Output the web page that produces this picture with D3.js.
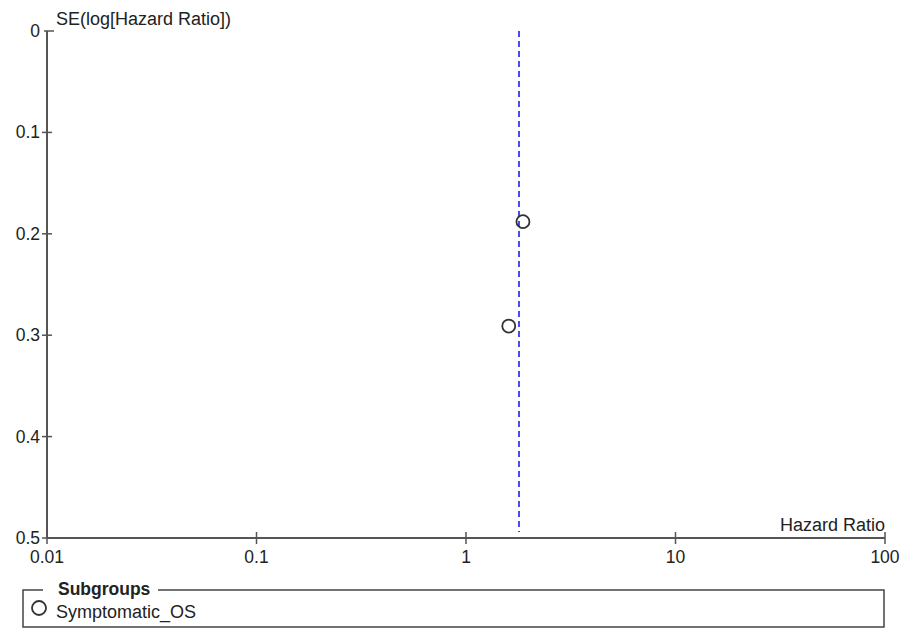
<!DOCTYPE html>
<html>
<head>
<meta charset="utf-8">
<script src="https://cdn.jsdelivr.net/npm/d3@7"></script>
<style>
  body { margin: 0; background: #fff; }
  svg { display: block; font-family: "Liberation Sans", Arial, sans-serif; }
</style>
</head>
<body>
<div id="chart"></div>
<script>
// studies: hazard ratio and SE(log HR)
var hazardRatios = [1.87, 1.60];
var standardErrors = [0.188, 0.291];
var pooledHR = 1.79;
var xTicks = [0.01, 0.1, 1, 10, 100];
var yTicks = [0, 0.1, 0.2, 0.3, 0.4, 0.5];
var subgroupNames = ["Symptomatic_OS"];

var width = 906, height = 630;
var plotLeft = 47, plotRight = 885, plotTop = 31, plotBottom = 538;
var axisColor = "#555";
var fontSize = "17.5px";

var svg = d3.select("#chart").append("svg")
    .attr("width", width)
    .attr("height", height);

var x = d3.scaleLog().domain([0.01, 100]).range([plotLeft, plotRight]);
var y = d3.scaleLinear().domain([0, 0.5]).range([plotTop, plotBottom]);

// y axis
svg.append("line")
    .attr("x1", plotLeft).attr("x2", plotLeft)
    .attr("y1", plotTop).attr("y2", plotBottom)
    .attr("stroke", axisColor).attr("stroke-width", 2);

svg.selectAll(".ytick")
    .data(yTicks)
    .enter()
    .append("line")
        .attr("x1", function (d) { return d === 0 ? plotLeft - 3 : plotLeft - 5; })
        .attr("x2", function (d) { return d === 0 ? plotLeft + 7 : plotLeft + 5; })
        .attr("y1", function (d) { return y(d); })
        .attr("y2", function (d) { return y(d); })
        .attr("stroke", axisColor).attr("stroke-width", 1.5);

svg.selectAll(".ylabel")
    .data(yTicks)
    .enter()
    .append("text")
        .attr("x", plotLeft - 7)
        .attr("y", function (d) { return y(d) + 6; })
        .attr("text-anchor", "end")
        .attr("font-size", fontSize)
        .attr("fill", "#222")
        .text(function (d) { return d === 0 ? "0" : d3.format(".1f")(d); });

svg.append("text")
    .attr("x", 56).attr("y", 25)
    .attr("font-size", "18px")
    .attr("fill", "#222")
    .text("SE(log[Hazard Ratio])");

// x axis
svg.append("line")
    .attr("x1", plotLeft).attr("x2", plotRight)
    .attr("y1", plotBottom).attr("y2", plotBottom)
    .attr("stroke", axisColor).attr("stroke-width", 2);

svg.selectAll(".xtick")
    .data(xTicks)
    .enter()
    .append("line")
        .attr("x1", function (d) { return x(d); })
        .attr("x2", function (d) { return x(d); })
        .attr("y1", plotBottom - 6)
        .attr("y2", plotBottom + 6)
        .attr("stroke", axisColor).attr("stroke-width", 1.5);

svg.selectAll(".xlabel")
    .data(xTicks)
    .enter()
    .append("text")
        .attr("x", function (d) { return x(d); })
        .attr("y", plotBottom + 25)
        .attr("text-anchor", "middle")
        .attr("font-size", fontSize)
        .attr("fill", "#222")
        .text(function (d) { return String(d); });

svg.append("text")
    .attr("x", plotRight).attr("y", plotBottom - 7)
    .attr("text-anchor", "end")
    .attr("font-size", "18px")
    .attr("fill", "#222")
    .text("Hazard Ratio");

// pooled estimate line
svg.append("line")
    .attr("x1", x(pooledHR)).attr("x2", x(pooledHR))
    .attr("y1", plotTop).attr("y2", plotBottom - 6)
    .attr("stroke", "#4a4af0")
    .attr("stroke-width", 2)
    .attr("stroke-dasharray", "6,4");

// study points
svg.selectAll("circle.study")
    .data(hazardRatios)
    .enter()
    .append("circle")
        .attr("class", "study")
        .attr("cx", function (d) { return x(d); })
        .attr("cy", function (d, i) { return y(standardErrors[i]); })
        .attr("r", 6.5)
        .attr("fill", "none")
        .attr("stroke", "#333")
        .attr("stroke-width", 1.8);

// legend
var legendTop = 590, legendBottom = 627, legendLeft = 23, legendRight = 884;
var lg = svg.append("g");
lg.append("path")
    .attr("d", `M${legendLeft + 20},${legendTop} H${legendLeft} V${legendBottom} H${legendRight} V${legendTop} H158`)
    .attr("fill", "none")
    .attr("stroke", "#444")
    .attr("stroke-width", 1.5);
lg.append("text")
    .attr("x", 58).attr("y", 595)
    .attr("font-size", "17.5px")
    .attr("font-weight", "bold")
    .attr("fill", "#222")
    .text("Subgroups");
lg.selectAll("circle")
    .data(subgroupNames)
    .enter()
    .append("circle")
        .attr("cx", 39).attr("cy", function (d, i) { return 608 + i * 20; })
        .attr("r", 7)
        .attr("fill", "none")
        .attr("stroke", "#333")
        .attr("stroke-width", 1.8);
lg.selectAll(".lname")
    .data(subgroupNames)
    .enter()
    .append("text")
        .attr("x", 56).attr("y", function (d, i) { return 618 + i * 20; })
        .attr("font-size", "18px")
        .attr("fill", "#222")
        .text(function (d) { return d; });
</script>
</body>
</html>
